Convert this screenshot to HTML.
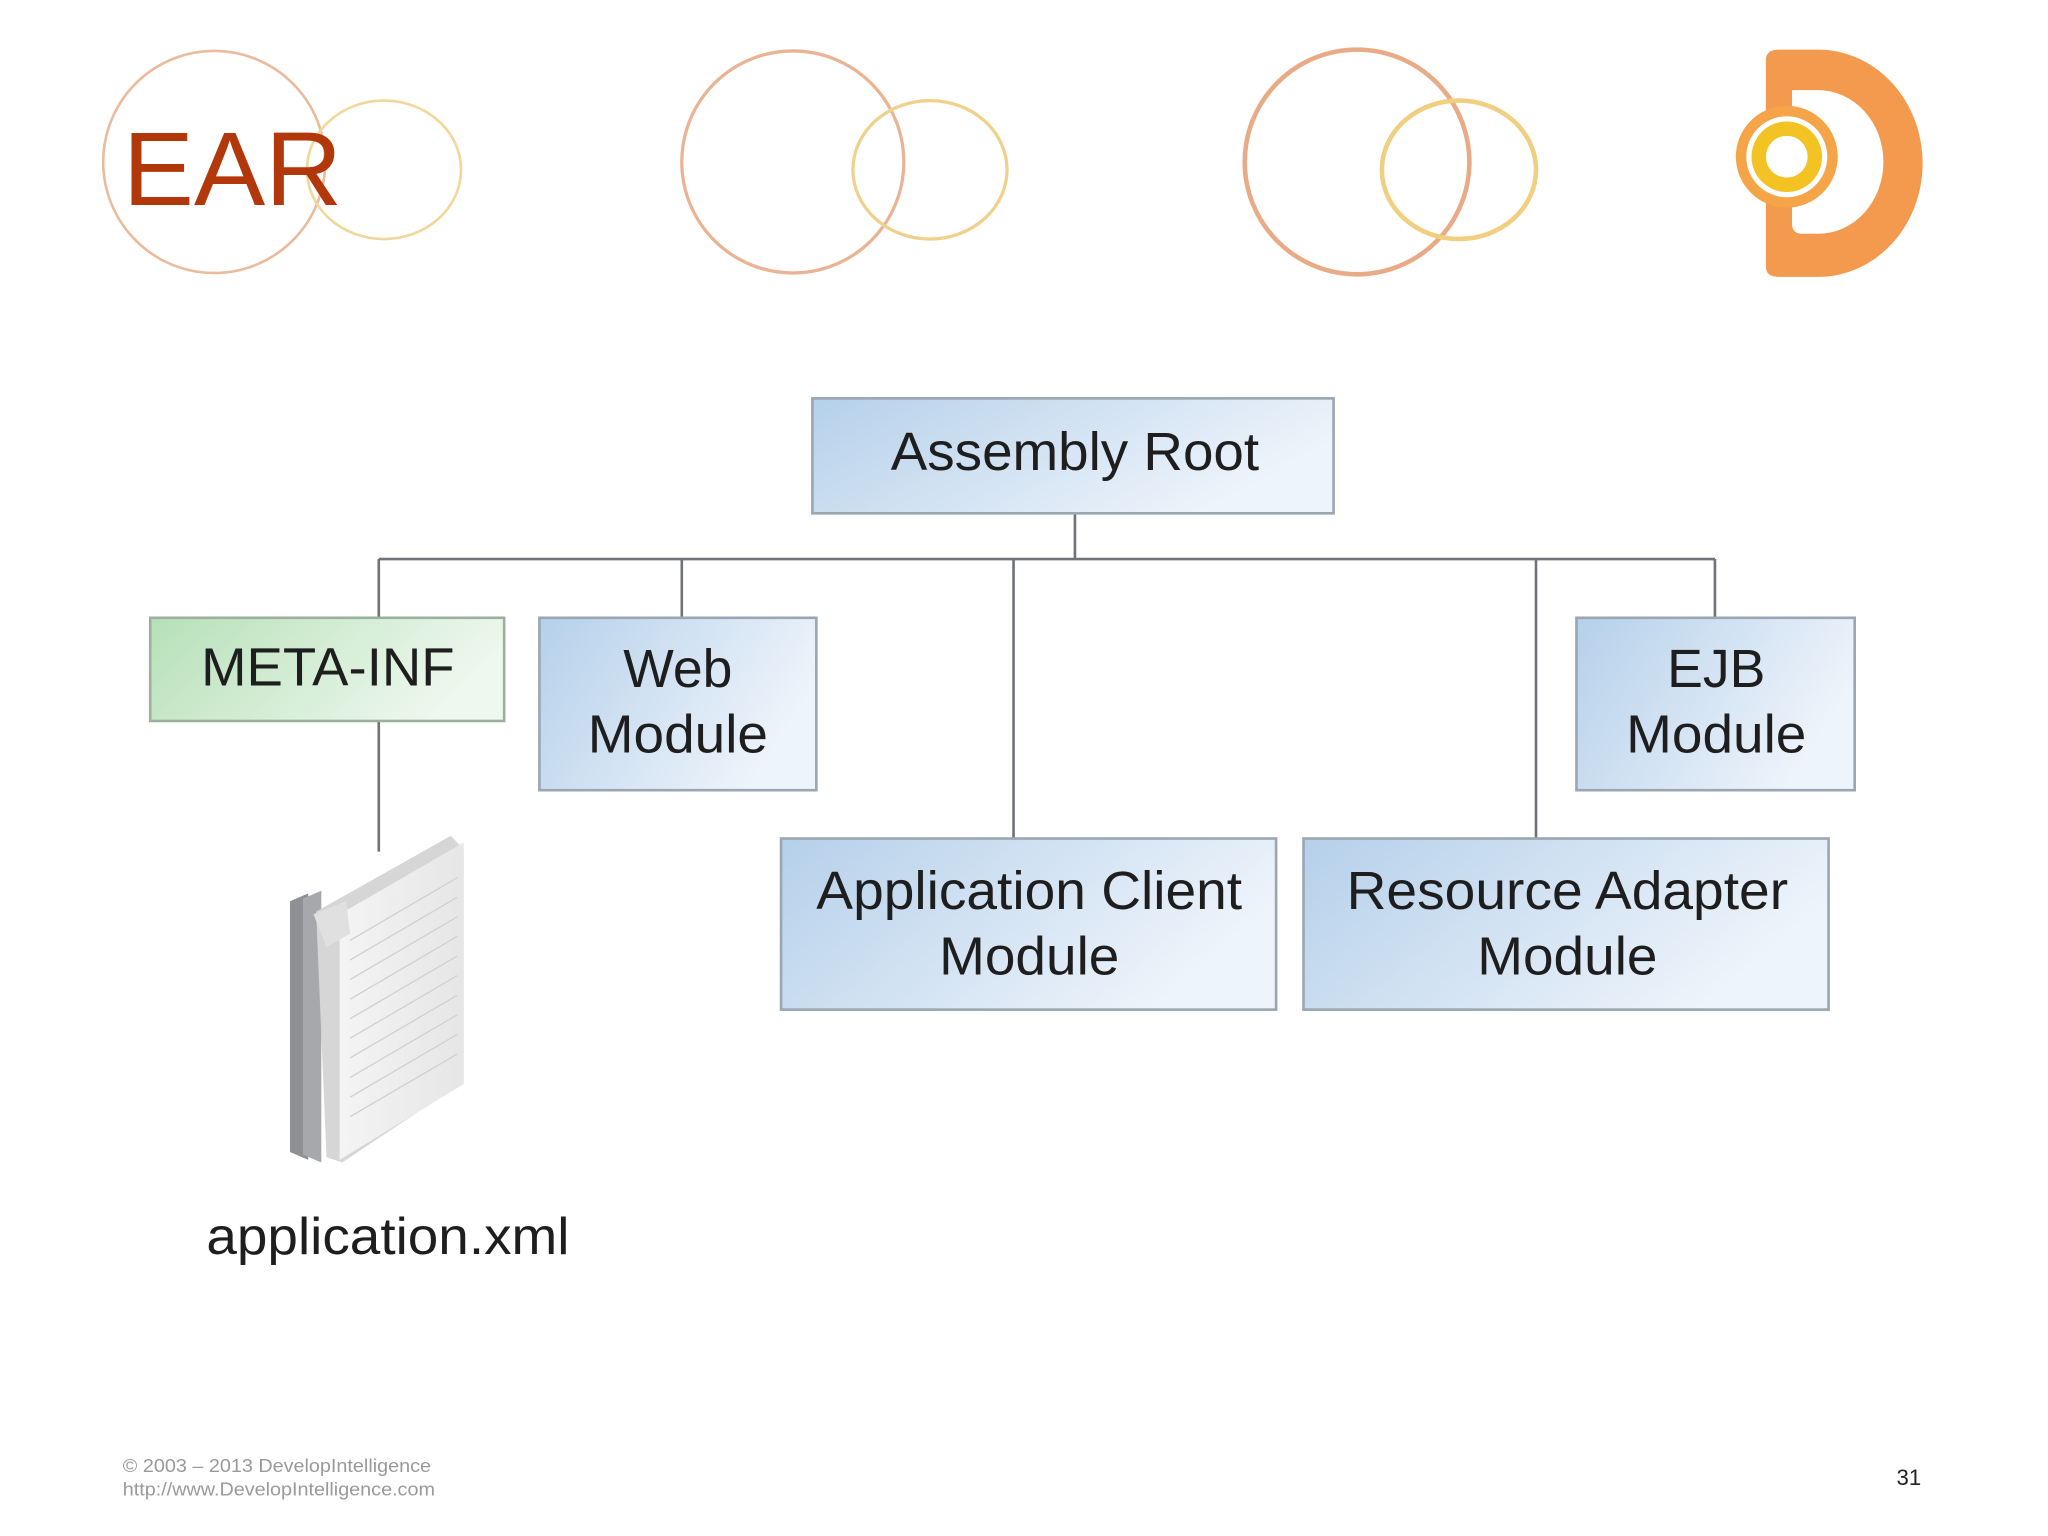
<!DOCTYPE html>
<html><head><meta charset="utf-8"><style>
html,body{margin:0;padding:0;background:#fff;}
svg{display:block;}
text{font-family:"Liberation Sans",Arial,sans-serif;}
</style></head><body>
<svg width="2048" height="1536" viewBox="0 0 1568 1176" xmlns="http://www.w3.org/2000/svg">
<defs>
<linearGradient id="bl" x1="0" y1="0" x2="1" y2="0.4">
<stop offset="0" stop-color="#b5d0ea"/><stop offset="1" stop-color="#eef4fb"/></linearGradient>
<linearGradient id="gr" x1="0" y1="0" x2="1" y2="0.3">
<stop offset="0" stop-color="#b6e0b8"/><stop offset="1" stop-color="#eef8ee"/></linearGradient>
<linearGradient id="pg" x1="0" y1="0" x2="1" y2="0">
<stop offset="0" stop-color="#f4f4f4"/><stop offset="1" stop-color="#e6e6e6"/></linearGradient>
</defs>
<rect width="1568" height="1176" fill="#fff"/>
<g fill="none" stroke-width="2">
<ellipse cx="164" cy="124" rx="85" ry="85" stroke="#eabb9c"/>
<ellipse cx="294" cy="130" rx="59" ry="53" stroke="#f1d79b"/>
<ellipse cx="607" cy="124" rx="85" ry="85" stroke="#eab394" stroke-width="2.5"/>
<ellipse cx="712" cy="130" rx="59" ry="53" stroke="#f0d18c" stroke-width="2.5"/>
<ellipse cx="1039" cy="124" rx="86" ry="86" stroke="#e9aa86" stroke-width="3.5"/>
<ellipse cx="1117" cy="130" rx="59" ry="53" stroke="#f0cf80" stroke-width="3.5"/>
</g>
<text x="94" y="157" font-size="80" fill="#b2380c" textLength="168" lengthAdjust="spacingAndGlyphs">EAR</text>
<path d="M1352,46 q0,-8 10,-8 h30 a80,87 0 0 1 0,174 h-30 q-10,0 -10,-8 z" fill="#f39a4e"/>
<path d="M1372,69 h20 a50,55 0 0 1 0,110 h-12 q-8,0 -8,-8 v-30 z" fill="#fff"/>
<circle cx="1368" cy="120" r="39" fill="#f5a447"/>
<circle cx="1368" cy="120" r="31" fill="#fff"/>
<circle cx="1368" cy="120" r="27" fill="#f3c223"/>
<circle cx="1368" cy="120" r="16" fill="#fff"/>
<g stroke="#6f7378" stroke-width="2" fill="none">
<path d="M823,393 V428 M290,428 H1313 M290,428 V473 M522,428 V473 M776,428 V642 M1176,428 V642 M1313,428 V473 M290,552 V652"/>
</g>
<g stroke="#9aa6b2" stroke-width="2">
<rect x="622" y="305" width="399" height="88" fill="url(#bl)"/>
<rect x="115" y="473" width="271" height="79" fill="url(#gr)" stroke="#9cb09e"/>
<rect x="413" y="473" width="212" height="132" fill="url(#bl)"/>
<rect x="1207" y="473" width="213" height="132" fill="url(#bl)"/>
<rect x="598" y="642" width="379" height="131" fill="url(#bl)"/>
<rect x="998" y="642" width="402" height="131" fill="url(#bl)"/>
</g>
<g font-size="41" fill="#1e1e1e" text-anchor="middle">
<text x="823" y="360" textLength="282" lengthAdjust="spacingAndGlyphs">Assembly Root</text>
<text x="251" y="525" textLength="194" lengthAdjust="spacingAndGlyphs">META-INF</text>
<text x="519" y="526">Web</text>
<text x="519" y="576" textLength="138" lengthAdjust="spacingAndGlyphs">Module</text>
<text x="1314" y="526">EJB</text>
<text x="1314" y="576" textLength="138" lengthAdjust="spacingAndGlyphs">Module</text>
<text x="788" y="696" textLength="326" lengthAdjust="spacingAndGlyphs">Application Client</text>
<text x="788" y="746" textLength="138" lengthAdjust="spacingAndGlyphs">Module</text>
<text x="1200" y="696" textLength="338" lengthAdjust="spacingAndGlyphs">Resource Adapter</text>
<text x="1200" y="746" textLength="138" lengthAdjust="spacingAndGlyphs">Module</text>
</g>
<polygon points="222,690 236,684 236,888 222,882" fill="#8e9094"/>
<polygon points="232,688 246,682 246,890 232,884" fill="#a6a8ac"/>
<polygon points="242,698 345,640 355,650 355,828 262,890 250,886" fill="#d6d6d6"/>
<polygon points="260,700 355,645 355,830 260,888" fill="url(#pg)"/>
<polygon points="240,700 265,690 268,715 250,725" fill="#e0e0e0"/>
<g stroke="#d0d0d0" stroke-width="1">
<path d="M268,720 L350,672 M268,735 L350,687 M268,750 L350,702 M268,765 L350,717 M268,780 L350,732 M268,795 L350,747 M268,810 L350,762 M268,825 L350,777 M268,840 L350,792 M268,855 L350,807"/>
</g>
<text x="158" y="960" font-size="40" fill="#1e1e1e" textLength="278" lengthAdjust="spacingAndGlyphs">application.xml</text>
<text x="94" y="1127" font-size="14" fill="#9a9a9a" textLength="236" lengthAdjust="spacingAndGlyphs">© 2003 – 2013 DevelopIntelligence</text>
<text x="94" y="1145" font-size="14" fill="#9a9a9a" textLength="239" lengthAdjust="spacingAndGlyphs">http://www.DevelopIntelligence.com</text>
<text x="1452" y="1137" font-size="17" fill="#222">31</text>
</svg>
</body></html>
